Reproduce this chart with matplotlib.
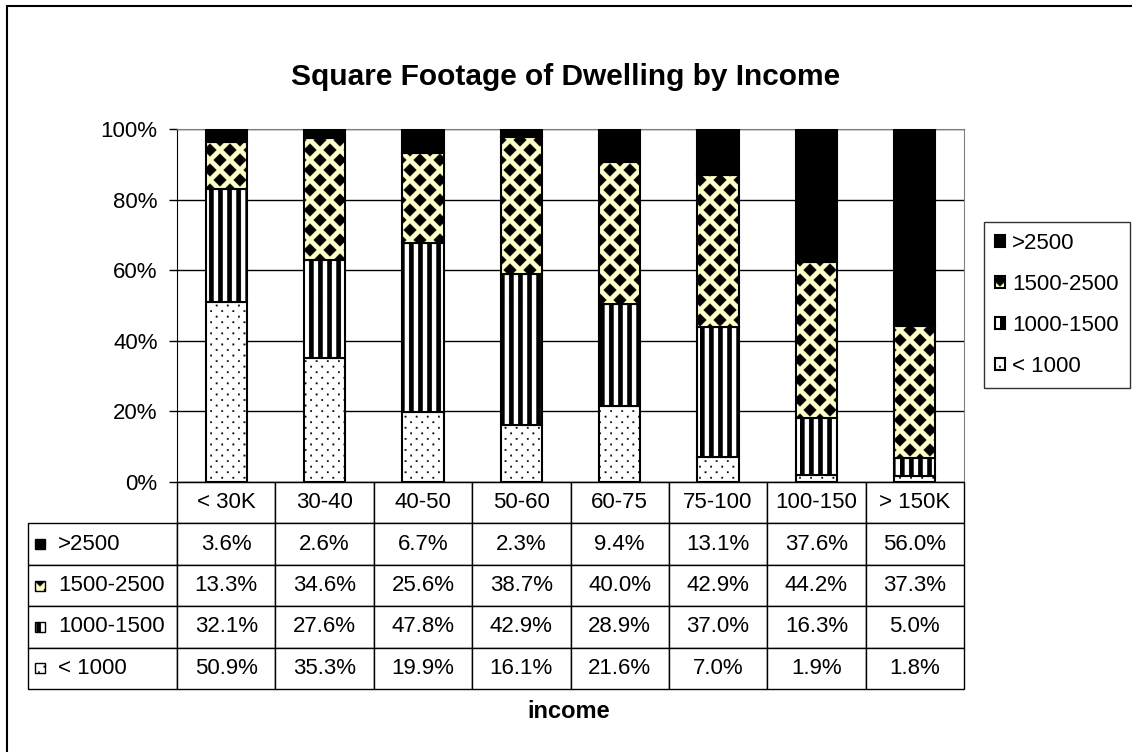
import numpy as np
import matplotlib
matplotlib.use('Agg')
import matplotlib.pyplot as plt
import matplotlib.hatch as mhatch
from matplotlib.path import Path
from matplotlib.patches import Rectangle
from matplotlib.table import Table
from matplotlib.ticker import PercentFormatter

# --- data (percent of households in each income band) ---
incomes = ['< 30K', '30-40', '40-50', '50-60', '60-75', '75-100', '100-150', '> 150K']
series = ['< 1000', '1000-1500', '1500-2500', '>2500']
under_1000 = [50.9, 35.3, 19.9, 16.1, 21.6, 7.0, 1.9, 1.8]
from_1000 = [32.1, 27.6, 47.8, 42.9, 28.9, 37.0, 16.3, 5.0]
from_1500 = [13.3, 34.6, 25.6, 38.7, 40.0, 42.9, 44.2, 37.3]
over_2500 = [3.6, 2.6, 6.7, 2.3, 9.4, 13.1, 37.6, 56.0]

faces = ['white', 'white', '#FFFFCC', 'black']
hatches = ['.', '|', '*', None]


# Excel-like fill patterns, swapped in for three of matplotlib's hatch types
def _lattice(n):
    # staggered 45 degree lattice, n cells per hatch tile
    step = 1.0 / n
    pts = []
    for r in range(2 * n + 1):
        y = r * step / 2
        x0 = 0.0 if r % 2 == 0 else step / 2
        for c in range(n + 1):
            x = x0 + c * step
            if x <= 1 + 1e-9:
                pts.append((x, y))
    return pts


class _Shapes(mhatch.HatchPatternBase):
    char = ''
    per_tile = 1

    def __init__(self, hatch, density):
        self.n = hatch.count(self.char) * self.per_tile
        self.polys = self.make_polys() if self.n else []
        self.num_vertices = sum(len(p) + 1 for p in self.polys)

    def set_vertices_and_codes(self, vertices, codes):
        i = 0
        for p in self.polys:
            k = len(p)
            vertices[i:i + k] = p
            vertices[i + k] = p[0]
            codes[i] = Path.MOVETO
            codes[i + 1:i + k] = Path.LINETO
            codes[i + k] = Path.CLOSEPOLY
            i += k + 1


class DiamondHatch(_Shapes):
    char = '*'
    per_tile = 5

    def make_polys(self):
        h = 0.32 / self.n
        d = np.array([[0, -h], [h, 0], [0, h], [-h, 0]])
        return [d + p for p in _lattice(self.n)]


class StripeHatch(_Shapes):
    char = '|'
    per_tile = 11

    def make_polys(self):
        s = 1.0 / self.n
        w = 0.5 * s
        return [np.array([[c * s, 0], [c * s + w, 0], [c * s + w, 1], [c * s, 1]])
                for c in range(self.n)]


class DotHatch(_Shapes):
    char = '.'
    per_tile = 9

    def make_polys(self):
        h = 0.0075
        d = np.array([[-h, -h], [h, -h], [h, h], [-h, h]])
        return [d + p for p in _lattice(self.n)]


mhatch._hatch_types = [t for t in mhatch._hatch_types
                       if t not in (mhatch.VerticalHatch, mhatch.SmallFilledCircles, mhatch.Stars)]
mhatch._hatch_types += [StripeHatch, DotHatch, DiamondHatch]

plt.rcParams['font.family'] = ['Liberation Sans', 'DejaVu Sans']
plt.rcParams['hatch.linewidth'] = 0.2

W, H = 1132, 752
fig = plt.figure(figsize=(W / 100, H / 100), dpi=100)
L, R, T, B = 177, 964, 129, 482
ax = fig.add_axes([L / W, 1 - B / H, (R - L) / W, (B - T) / H])


def ax_xy(px, py):
    # pixel position -> axes fraction
    return (px - L) / (R - L), (B - py) / (B - T)


vals = np.array([under_1000, from_1000, from_1500, over_2500])
shares = vals / vals.sum(axis=0) * 100
x = np.arange(len(incomes))
bottom = np.zeros(len(incomes))
for k in range(len(series)):
    ax.bar(x, shares[k], 0.42, bottom=bottom, color=faces[k], edgecolor='black',
           linewidth=1.5, hatch=hatches[k], label=series[k], zorder=3)
    bottom += shares[k]

ax.set_xlim(-0.5, len(incomes) - 0.5)
ax.set_ylim(0, 100)
ax.set_yticks(range(0, 101, 20))
ax.yaxis.set_major_formatter(PercentFormatter(decimals=0))
ax.set_xticks([])
ax.tick_params(axis='y', length=6, width=1, pad=8, labelsize=16)
ax.yaxis.grid(True, color='black', linewidth=1)
ax.set_axisbelow(True)
for s in ['top', 'right']:
    ax.spines[s].set_color('#808080')
for s in ['left', 'bottom']:
    ax.spines[s].set_color('black')

# data table under the plot (sizes in axes units so the bbox scale stays 1)
TB = 689
lab_w = (L - 28) / (R - L)
col_w = 1 / len(incomes)
row_h = (TB - B) / (B - T) / (len(series) + 1)
tb = Table(ax, bbox=[0, -(TB - B) / (B - T), 1, (TB - B) / (B - T)])
for j, name in enumerate(incomes):
    tb.add_cell(0, j, col_w, row_h, text=name, loc='center')
order = list(range(len(series)))[::-1]
for i, k in enumerate(order):
    c = tb.add_cell(i + 1, -1, lab_w, row_h, text=series[k], loc='left')
    c.PAD = 0.2
    for j in range(len(incomes)):
        tb.add_cell(i + 1, j, col_w, row_h, text=f'{vals[k][j]:.1f}%', loc='center')
tb.auto_set_font_size(False)
tb.set_fontsize(16)
for cell in tb.get_celld().values():
    cell.set_edgecolor('black')
    cell.set_linewidth(1)
ax.add_table(tb)

# legend keys inside the row-label cells
row_px = (TB - B) / (len(series) + 1)
for i, k in enumerate(order):
    cy = B + row_px * (i + 1.5)
    kx, ky = ax_xy(35, cy + 5)
    ax.add_patch(Rectangle((kx, ky), 10 / (R - L), 10 / (B - T), transform=ax.transAxes,
                           facecolor=faces[k], edgecolor='black', linewidth=1,
                           hatch=hatches[k], clip_on=False, zorder=5))

handles, labels = ax.get_legend_handles_labels()
leg = fig.legend(handles[::-1], labels[::-1], loc='upper left',
                 bbox_to_anchor=(984 / W, 1 - 222 / H), frameon=True, fancybox=False,
                 edgecolor='black', fontsize=16, handlelength=0.45, handleheight=0.45,
                 handletextpad=0.3, labelspacing=0.9, borderpad=0.5, borderaxespad=0)
leg.get_frame().set_linewidth(1)

fig.text(0.5, 1 - 77 / H, 'Square Footage of Dwelling by Income', ha='center',
         va='center', fontsize=21.5, fontweight='bold')
fig.text(569 / W, 1 - 711 / H, 'income', ha='center', va='center', fontsize=17,
         fontweight='bold')

fig.patches.append(Rectangle((7 / W, -0.05), 1.2, 1.05 - 6 / H, transform=fig.transFigure,
                             fill=False, edgecolor='black', linewidth=1.5))

fig.savefig('out.png', dpi=100)
